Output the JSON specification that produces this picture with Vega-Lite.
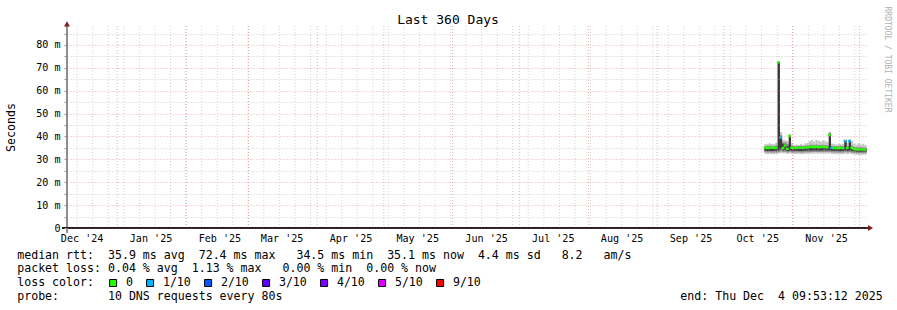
{
  "$schema": "https://vega.github.io/schema/vega-lite/v6.json",
  "width": 800,
  "height": 202,
  "autosize": {"type": "none"},
  "padding": {"left": 67, "top": 26, "right": 30, "bottom": 82},
  "background": "#ffffff",
  "config": {"view": {"stroke": null}, "font": "DejaVu Sans Mono"},
  "datasets": {
    "smoke": [
      {"t": "2025-10-19", "lo": 32.4, "l2": 33.1, "l3": 33.8, "med": 35.1, "h3": 35.4, "h2": 35.9, "hi": 36.6, "loss": "0"},
      {"t": "2025-10-20", "lo": 32.3, "l2": 33.0, "l3": 33.7, "med": 35.0, "h3": 35.3, "h2": 35.9, "hi": 36.9, "loss": "0"},
      {"t": "2025-10-21", "lo": 32.4, "l2": 33.1, "l3": 33.8, "med": 35.0, "h3": 35.4, "h2": 36.0, "hi": 37.0, "loss": "0"},
      {"t": "2025-10-22", "lo": 32.3, "l2": 33.0, "l3": 33.7, "med": 35.1, "h3": 35.3, "h2": 35.8, "hi": 36.7, "loss": "0"},
      {"t": "2025-10-23", "lo": 32.3, "l2": 33.0, "l3": 33.7, "med": 35.0, "h3": 35.3, "h2": 35.9, "hi": 36.8, "loss": "0"},
      {"t": "2025-10-24", "lo": 32.3, "l2": 33.0, "l3": 33.8, "med": 35.1, "h3": 35.5, "h2": 36.2, "hi": 37.4, "loss": "0"},
      {"t": "2025-10-25", "lo": 32.5, "l2": 33.2, "l3": 34.0, "med": 72.4, "h3": 72.4, "h2": 72.7, "hi": 73.0, "loss": "0"},
      {"t": "2025-10-26", "lo": 32.8, "l2": 33.6, "l3": 34.6, "med": 39.5, "h3": 39.8, "h2": 40.6, "hi": 42.0, "loss": "1/10"},
      {"t": "2025-10-27", "lo": 32.6, "l2": 33.3, "l3": 34.0, "med": 34.9, "h3": 36.8, "h2": 37.4, "hi": 38.4, "loss": "0"},
      {"t": "2025-10-28", "lo": 32.6, "l2": 33.3, "l3": 34.0, "med": 36.0, "h3": 36.5, "h2": 37.5, "hi": 38.5, "loss": "0"},
      {"t": "2025-10-29", "lo": 32.4, "l2": 33.0, "l3": 33.6, "med": 34.6, "h3": 35.8, "h2": 36.8, "hi": 38.0, "loss": "0"},
      {"t": "2025-10-30", "lo": 32.6, "l2": 33.3, "l3": 34.0, "med": 40.2, "h3": 40.4, "h2": 40.6, "hi": 41.0, "loss": "0"},
      {"t": "2025-10-31", "lo": 32.4, "l2": 33.1, "l3": 33.8, "med": 35.1, "h3": 35.4, "h2": 36.0, "hi": 37.0, "loss": "0"},
      {"t": "2025-11-01", "lo": 32.3, "l2": 33.0, "l3": 33.7, "med": 35.0, "h3": 35.3, "h2": 35.8, "hi": 36.2, "loss": "0"},
      {"t": "2025-11-02", "lo": 32.3, "l2": 33.0, "l3": 33.7, "med": 35.0, "h3": 35.3, "h2": 35.8, "hi": 36.5, "loss": "0"},
      {"t": "2025-11-03", "lo": 32.4, "l2": 33.1, "l3": 33.7, "med": 35.1, "h3": 35.4, "h2": 35.9, "hi": 36.3, "loss": "0"},
      {"t": "2025-11-04", "lo": 32.3, "l2": 33.0, "l3": 33.7, "med": 35.0, "h3": 35.3, "h2": 35.9, "hi": 36.8, "loss": "0"},
      {"t": "2025-11-05", "lo": 32.3, "l2": 33.0, "l3": 33.7, "med": 35.0, "h3": 35.3, "h2": 35.8, "hi": 36.4, "loss": "0"},
      {"t": "2025-11-06", "lo": 32.4, "l2": 33.1, "l3": 33.8, "med": 35.2, "h3": 35.5, "h2": 36.0, "hi": 37.0, "loss": "0"},
      {"t": "2025-11-07", "lo": 32.4, "l2": 33.1, "l3": 33.8, "med": 35.2, "h3": 35.5, "h2": 36.1, "hi": 37.1, "loss": "0"},
      {"t": "2025-11-08", "lo": 32.5, "l2": 33.2, "l3": 33.9, "med": 35.4, "h3": 35.7, "h2": 36.3, "hi": 38.0, "loss": "0"},
      {"t": "2025-11-09", "lo": 32.5, "l2": 33.2, "l3": 33.9, "med": 35.5, "h3": 35.8, "h2": 36.4, "hi": 38.4, "loss": "0"},
      {"t": "2025-11-10", "lo": 32.5, "l2": 33.2, "l3": 33.9, "med": 35.4, "h3": 35.7, "h2": 36.3, "hi": 37.7, "loss": "0"},
      {"t": "2025-11-11", "lo": 32.5, "l2": 33.2, "l3": 33.9, "med": 35.5, "h3": 35.8, "h2": 36.5, "hi": 38.5, "loss": "0"},
      {"t": "2025-11-12", "lo": 32.5, "l2": 33.2, "l3": 33.9, "med": 35.3, "h3": 35.6, "h2": 36.2, "hi": 38.1, "loss": "0"},
      {"t": "2025-11-13", "lo": 32.5, "l2": 33.2, "l3": 33.9, "med": 35.4, "h3": 35.7, "h2": 36.3, "hi": 37.8, "loss": "0"},
      {"t": "2025-11-14", "lo": 32.5, "l2": 33.2, "l3": 33.9, "med": 35.5, "h3": 35.8, "h2": 36.4, "hi": 38.3, "loss": "0"},
      {"t": "2025-11-15", "lo": 32.5, "l2": 33.2, "l3": 33.9, "med": 35.4, "h3": 35.7, "h2": 36.3, "hi": 38.0, "loss": "0"},
      {"t": "2025-11-16", "lo": 32.5, "l2": 33.2, "l3": 33.9, "med": 35.3, "h3": 35.6, "h2": 36.2, "hi": 37.6, "loss": "0"},
      {"t": "2025-11-17", "lo": 32.6, "l2": 33.3, "l3": 34.0, "med": 40.7, "h3": 41.2, "h2": 41.6, "hi": 42.1, "loss": "0"},
      {"t": "2025-11-18", "lo": 32.4, "l2": 33.1, "l3": 33.8, "med": 35.0, "h3": 35.3, "h2": 35.9, "hi": 36.9, "loss": "1/10"},
      {"t": "2025-11-19", "lo": 32.3, "l2": 33.0, "l3": 33.7, "med": 35.0, "h3": 35.3, "h2": 35.8, "hi": 36.7, "loss": "0"},
      {"t": "2025-11-20", "lo": 32.3, "l2": 33.0, "l3": 33.7, "med": 34.9, "h3": 35.2, "h2": 35.8, "hi": 36.5, "loss": "0"},
      {"t": "2025-11-21", "lo": 32.3, "l2": 33.0, "l3": 33.7, "med": 35.0, "h3": 35.3, "h2": 35.8, "hi": 36.8, "loss": "0"},
      {"t": "2025-11-22", "lo": 32.3, "l2": 33.0, "l3": 33.7, "med": 35.0, "h3": 35.3, "h2": 35.9, "hi": 36.6, "loss": "0"},
      {"t": "2025-11-23", "lo": 32.3, "l2": 33.0, "l3": 33.7, "med": 34.9, "h3": 35.2, "h2": 35.8, "hi": 36.9, "loss": "0"},
      {"t": "2025-11-24", "lo": 32.5, "l2": 33.2, "l3": 34.0, "med": 38.0, "h3": 38.2, "h2": 38.4, "hi": 38.6, "loss": "1/10"},
      {"t": "2025-11-25", "lo": 32.3, "l2": 33.0, "l3": 33.7, "med": 35.0, "h3": 35.3, "h2": 35.9, "hi": 37.2, "loss": "0"},
      {"t": "2025-11-26", "lo": 32.5, "l2": 33.2, "l3": 34.0, "med": 38.0, "h3": 38.3, "h2": 38.5, "hi": 38.8, "loss": "1/10"},
      {"t": "2025-11-27", "lo": 32.3, "l2": 33.0, "l3": 33.7, "med": 35.0, "h3": 35.3, "h2": 36.0, "hi": 38.0, "loss": "0"},
      {"t": "2025-11-28", "lo": 32.1, "l2": 32.8, "l3": 33.5, "med": 34.5, "h3": 34.8, "h2": 35.4, "hi": 36.8, "loss": "0"},
      {"t": "2025-11-29", "lo": 32.0, "l2": 32.7, "l3": 33.4, "med": 34.4, "h3": 34.7, "h2": 35.3, "hi": 36.4, "loss": "0"},
      {"t": "2025-11-30", "lo": 32.0, "l2": 32.7, "l3": 33.4, "med": 34.3, "h3": 34.6, "h2": 35.3, "hi": 37.0, "loss": "0"},
      {"t": "2025-12-01", "lo": 32.0, "l2": 32.7, "l3": 33.4, "med": 34.4, "h3": 34.7, "h2": 35.3, "hi": 36.5, "loss": "0"},
      {"t": "2025-12-02", "lo": 32.0, "l2": 32.7, "l3": 33.4, "med": 34.3, "h3": 34.6, "h2": 35.2, "hi": 36.8, "loss": "0"},
      {"t": "2025-12-03", "lo": 32.0, "l2": 32.7, "l3": 33.4, "med": 34.3, "h3": 34.6, "h2": 35.2, "hi": 36.3, "loss": "0"}
    ],
    "vgrid": [
      {"t": "2024-12-14", "k": "min"}, {"t": "2024-12-21", "k": "min"}, {"t": "2024-12-28", "k": "min"},
      {"t": "2025-01-04", "k": "min"}, {"t": "2025-01-11", "k": "min"}, {"t": "2025-01-18", "k": "min"}, {"t": "2025-01-25", "k": "min"},
      {"t": "2025-02-01", "k": "min"}, {"t": "2025-02-08", "k": "min"}, {"t": "2025-02-15", "k": "min"}, {"t": "2025-02-22", "k": "min"},
      {"t": "2025-03-01", "k": "min"}, {"t": "2025-03-08", "k": "min"}, {"t": "2025-03-15", "k": "min"}, {"t": "2025-03-22", "k": "min"}, {"t": "2025-03-29", "k": "min"},
      {"t": "2025-04-05", "k": "min"}, {"t": "2025-04-12", "k": "min"}, {"t": "2025-04-19", "k": "min"}, {"t": "2025-04-26", "k": "min"},
      {"t": "2025-05-03", "k": "min"}, {"t": "2025-05-10", "k": "min"}, {"t": "2025-05-17", "k": "min"}, {"t": "2025-05-24", "k": "min"}, {"t": "2025-05-31", "k": "min"},
      {"t": "2025-06-07", "k": "min"}, {"t": "2025-06-14", "k": "min"}, {"t": "2025-06-21", "k": "min"}, {"t": "2025-06-28", "k": "min"},
      {"t": "2025-07-05", "k": "min"}, {"t": "2025-07-12", "k": "min"}, {"t": "2025-07-19", "k": "min"}, {"t": "2025-07-26", "k": "min"},
      {"t": "2025-08-02", "k": "min"}, {"t": "2025-08-09", "k": "min"}, {"t": "2025-08-16", "k": "min"}, {"t": "2025-08-23", "k": "min"}, {"t": "2025-08-30", "k": "min"},
      {"t": "2025-09-06", "k": "min"}, {"t": "2025-09-13", "k": "min"}, {"t": "2025-09-20", "k": "min"}, {"t": "2025-09-27", "k": "min"},
      {"t": "2025-10-04", "k": "min"}, {"t": "2025-10-11", "k": "min"}, {"t": "2025-10-18", "k": "min"}, {"t": "2025-10-25", "k": "min"},
      {"t": "2025-11-01", "k": "min"}, {"t": "2025-11-08", "k": "min"}, {"t": "2025-11-15", "k": "min"}, {"t": "2025-11-22", "k": "min"}, {"t": "2025-11-29", "k": "min"},
      {"t": "2025-01-01", "k": "maj"}, {"t": "2025-02-01", "k": "maj"}, {"t": "2025-03-01", "k": "maj"}, {"t": "2025-04-01", "k": "maj"},
      {"t": "2025-05-01", "k": "maj"}, {"t": "2025-06-01", "k": "maj"}, {"t": "2025-07-01", "k": "maj"}, {"t": "2025-08-01", "k": "maj"},
      {"t": "2025-09-01", "k": "maj"}, {"t": "2025-10-01", "k": "maj"}, {"t": "2025-11-01", "k": "maj"}, {"t": "2025-12-01", "k": "maj"}
    ],
    "axislines": [
      {"t": "2024-12-07T03:53:12Z", "t2": "2025-12-04T20:00:00Z", "v": 0, "v2": 0, "k": "x"},
      {"t": "2024-12-09T09:53:12Z", "t2": "2024-12-09T09:53:12Z", "v": -2.2, "v2": 88.3, "k": "y"}
    ],
    "arrows": [
      {"t": "2025-12-06T00:00:00Z", "v": 0, "s": "triangle-right"},
      {"t": "2024-12-09T09:53:12Z", "v": 89.2, "s": "triangle-up"}
    ]
  },
  "resolve": {"axis": {"x": "independent", "y": "independent"}},
  "layer": [
    {
      "data": {"name": "smoke"},
      "mark": {"type": "rect", "color": "#c6c6c6"},
      "encoding": {
        "x": {
          "field": "t", "type": "temporal", "timeUnit": "utcyearmonthdate",
          "scale": {"type": "utc", "nice": false, "domain": [{"year": 2024, "month": 12, "date": 9, "hours": 9, "minutes": 53, "seconds": 12, "utc": true}, {"year": 2025, "month": 12, "date": 4, "hours": 9, "minutes": 53, "seconds": 12, "utc": true}]},
          "axis": {
            "orient": "bottom",
            "values": [
              {"year": 2024, "month": 12, "date": 16, "utc": true},
              {"year": 2025, "month": 1, "date": 16, "utc": true},
              {"year": 2025, "month": 2, "date": 16, "utc": true},
              {"year": 2025, "month": 3, "date": 16, "utc": true},
              {"year": 2025, "month": 4, "date": 16, "utc": true},
              {"year": 2025, "month": 5, "date": 16, "utc": true},
              {"year": 2025, "month": 6, "date": 16, "utc": true},
              {"year": 2025, "month": 7, "date": 16, "utc": true},
              {"year": 2025, "month": 8, "date": 16, "utc": true},
              {"year": 2025, "month": 9, "date": 16, "utc": true},
              {"year": 2025, "month": 10, "date": 16, "utc": true},
              {"year": 2025, "month": 11, "date": 16, "utc": true}
            ],
            "labelExpr": "utcFormat(datum.value, \"%b '%y\")",
            "labelFont": "DejaVu Sans Mono", "labelFontSize": 10.1, "labelColor": "#000000",
            "labelBaseline": "alphabetic", "labelAlign": "center", "labelPadding": 13,
            "labelFlush": false, "labelOverlap": false, "labelBound": false,
            "ticks": false, "tickSize": 0, "grid": false, "domain": false,
            "title": [
              "median rtt:\u00a0 35.9 ms avg\u00a0 72.4 ms max\u00a0\u00a0 34.5 ms min\u00a0 35.1 ms now\u00a0 4.4 ms sd\u00a0\u00a0 8.2\u00a0\u00a0 am/s",
              "packet loss: 0.04 % avg\u00a0 1.13 % max\u00a0\u00a0 0.00 % min\u00a0 0.00 % now",
              "loss color:",
              "probe:\u00a0\u00a0\u00a0\u00a0\u00a0\u00a0 10 DNS requests every 80s\u00a0\u00a0\u00a0\u00a0\u00a0\u00a0\u00a0\u00a0\u00a0\u00a0\u00a0\u00a0\u00a0\u00a0\u00a0\u00a0\u00a0\u00a0\u00a0\u00a0\u00a0\u00a0\u00a0\u00a0\u00a0\u00a0\u00a0\u00a0\u00a0\u00a0\u00a0\u00a0\u00a0\u00a0\u00a0\u00a0\u00a0\u00a0\u00a0\u00a0\u00a0\u00a0\u00a0\u00a0\u00a0\u00a0\u00a0\u00a0\u00a0\u00a0\u00a0\u00a0\u00a0\u00a0\u00a0\u00a0 end: Thu Dec\u00a0 4 09:53:12 2025"
            ],
            "titleFont": "DejaVu Sans Mono", "titleFontSize": 11.6, "titleFontWeight": "normal", "titleColor": "#000000",
            "titleAnchor": "start", "titleAlign": "left", "titleBaseline": "alphabetic",
            "titleX": -50.3, "titleY": 30, "titleLineHeight": 13.9
          }
        },
        "y": {
          "field": "lo", "type": "quantitative",
          "scale": {"domain": [0, 88.3], "nice": false, "zero": false},
          "axis": {
            "orient": "left",
            "values": [0, 5, 10, 15, 20, 25, 30, 35, 40, 45, 50, 55, 60, 65, 70, 75, 80, 85],
            "labelExpr": "datum.value % 10 === 0 ? (datum.value === 0 ? '0\u00a0' : datum.value + ' m') : ''",
            "labelFont": "DejaVu Sans Mono", "labelFontSize": 10.1, "labelColor": "#000000", "labelPadding": 4,
            "ticks": true, "tickSize": 3, "tickColor": "#909090",
            "grid": true,
            "gridColor": {"condition": {"test": "datum.value % 10 === 0", "value": "#e06060"}, "value": "#a0a0a0"},
            "gridOpacity": 0.5, "gridDash": [1, 2], "gridWidth": 1,
            "domain": false, "zindex": 1,
            "title": "Seconds", "titleFont": "DejaVu Sans Mono", "titleFontSize": 11.6, "titleFontWeight": "normal", "titleColor": "#000000",
            "titleAngle": 270, "titleAlign": "center", "titleBaseline": "middle", "titleX": -56, "titleY": 101
          }
        },
        "y2": {"field": "hi"}
      }
    },
    {
      "data": {"name": "smoke"},
      "mark": {"type": "rect", "color": "#8a8a8a"},
      "encoding": {
        "x": {"field": "t", "type": "temporal", "timeUnit": "utcyearmonthdate", "axis": null,
          "scale": {"type": "utc", "nice": false, "domain": [{"year": 2024, "month": 12, "date": 9, "hours": 9, "minutes": 53, "seconds": 12, "utc": true}, {"year": 2025, "month": 12, "date": 4, "hours": 9, "minutes": 53, "seconds": 12, "utc": true}]}},
        "y": {"field": "l2", "type": "quantitative", "axis": null, "scale": {"domain": [0, 88.3], "nice": false, "zero": false}},
        "y2": {"field": "h2"}
      }
    },
    {
      "data": {"name": "smoke"},
      "mark": {"type": "rect", "color": "#383838"},
      "encoding": {
        "x": {"field": "t", "type": "temporal", "timeUnit": "utcyearmonthdate", "axis": null,
          "scale": {"type": "utc", "nice": false, "domain": [{"year": 2024, "month": 12, "date": 9, "hours": 9, "minutes": 53, "seconds": 12, "utc": true}, {"year": 2025, "month": 12, "date": 4, "hours": 9, "minutes": 53, "seconds": 12, "utc": true}]}},
        "y": {"field": "l3", "type": "quantitative", "axis": null, "scale": {"domain": [0, 88.3], "nice": false, "zero": false}},
        "y2": {"field": "h3"}
      }
    },
    {
      "data": {"name": "smoke"},
      "mark": {"type": "tick", "orient": "horizontal", "thickness": 2.4, "size": 2.7, "opacity": 1},
      "encoding": {
        "x": {"field": "t", "type": "temporal", "timeUnit": "utcyearmonthdate", "bandPosition": 0.5, "axis": null,
          "scale": {"type": "utc", "nice": false, "domain": [{"year": 2024, "month": 12, "date": 9, "hours": 9, "minutes": 53, "seconds": 12, "utc": true}, {"year": 2025, "month": 12, "date": 4, "hours": 9, "minutes": 53, "seconds": 12, "utc": true}]}},
        "y": {"field": "med", "type": "quantitative", "axis": null, "scale": {"domain": [0, 88.3], "nice": false, "zero": false}},
        "color": {
          "field": "loss", "type": "nominal",
          "scale": {"domain": ["0", "1/10", "2/10", "3/10", "4/10", "5/10", "9/10"], "range": ["#26ff00", "#00b8ff", "#0059ff", "#5e00ff", "#7e00ff", "#dd00ff", "#ff0000"]},
          "legend": {
            "orient": "none", "legendX": 40.3, "legendY": 250.9, "direction": "horizontal", "title": null,
            "symbolType": "square", "symbolSize": 49, "symbolStrokeWidth": 1, "symbolStrokeColor": "#000000", "symbolOpacity": 1,
            "labelFont": "DejaVu Sans Mono", "labelFontSize": 11.6, "labelColor": "#000000", "labelOffset": 7,
            "columnPadding": 11, "padding": 0,
            "encode": {"symbols": {"update": {"fill": {"scale": "color", "field": "value"}, "stroke": {"value": "#000000"}, "strokeWidth": {"value": 1}, "opacity": {"value": 1}}}}
          }
        }
      }
    },
    {
      "data": {"name": "vgrid"},
      "transform": [{"filter": "datum.k === 'min'"}],
      "mark": {"type": "rule", "color": "#a0a0a0", "opacity": 0.45, "strokeDash": [1, 2], "strokeWidth": 1},
      "encoding": {
        "x": {"field": "t", "type": "temporal", "axis": null,
          "scale": {"type": "utc", "nice": false, "domain": [{"year": 2024, "month": 12, "date": 9, "hours": 9, "minutes": 53, "seconds": 12, "utc": true}, {"year": 2025, "month": 12, "date": 4, "hours": 9, "minutes": 53, "seconds": 12, "utc": true}]}}
      }
    },
    {
      "data": {"name": "vgrid"},
      "transform": [{"filter": "datum.k === 'maj'"}],
      "mark": {"type": "rule", "color": "#e06060", "opacity": 0.5, "strokeDash": [1, 2], "strokeWidth": 1},
      "encoding": {
        "x": {"field": "t", "type": "temporal", "axis": null,
          "scale": {"type": "utc", "nice": false, "domain": [{"year": 2024, "month": 12, "date": 9, "hours": 9, "minutes": 53, "seconds": 12, "utc": true}, {"year": 2025, "month": 12, "date": 4, "hours": 9, "minutes": 53, "seconds": 12, "utc": true}]}}
      }
    },
    {
      "data": {"name": "axislines"},
      "transform": [{"filter": "datum.k === 'x'"}],
      "mark": {"type": "rule", "color": "#1f1f1f", "strokeWidth": 2},
      "encoding": {
        "x": {"field": "t", "type": "temporal", "axis": null,
          "scale": {"type": "utc", "nice": false, "domain": [{"year": 2024, "month": 12, "date": 9, "hours": 9, "minutes": 53, "seconds": 12, "utc": true}, {"year": 2025, "month": 12, "date": 4, "hours": 9, "minutes": 53, "seconds": 12, "utc": true}]}},
        "x2": {"field": "t2"},
        "y": {"field": "v", "type": "quantitative", "axis": null, "scale": {"domain": [0, 88.3], "nice": false, "zero": false}}
      }
    },
    {
      "data": {"name": "axislines"},
      "transform": [{"filter": "datum.k === 'y'"}],
      "mark": {"type": "rule", "color": "#1f1f1f", "strokeWidth": 1},
      "encoding": {
        "x": {"field": "t", "type": "temporal", "axis": null,
          "scale": {"type": "utc", "nice": false, "domain": [{"year": 2024, "month": 12, "date": 9, "hours": 9, "minutes": 53, "seconds": 12, "utc": true}, {"year": 2025, "month": 12, "date": 4, "hours": 9, "minutes": 53, "seconds": 12, "utc": true}]}},
        "y": {"field": "v", "type": "quantitative", "axis": null, "scale": {"domain": [0, 88.3], "nice": false, "zero": false}},
        "y2": {"field": "v2"}
      }
    },
    {
      "data": {"name": "arrows"},
      "mark": {"type": "point", "filled": true, "size": 36, "color": "#801f1f", "opacity": 1},
      "encoding": {
        "x": {"field": "t", "type": "temporal",
          "scale": {"type": "utc", "nice": false, "domain": [{"year": 2024, "month": 12, "date": 9, "hours": 9, "minutes": 53, "seconds": 12, "utc": true}, {"year": 2025, "month": 12, "date": 4, "hours": 9, "minutes": 53, "seconds": 12, "utc": true}]},
          "axis": {
            "orient": "top", "labels": false, "ticks": false, "domain": false, "grid": false,
            "title": "Last 360 Days", "titleFont": "DejaVu Sans Mono", "titleFontSize": 13, "titleFontWeight": "normal", "titleColor": "#000000",
            "titleX": 380.5, "titleY": -3, "titleAlign": "center", "titleAnchor": "middle", "titleBaseline": "alphabetic"
          }
        },
        "y": {
          "field": "v", "type": "quantitative",
          "scale": {"domain": [0, 88.3], "nice": false, "zero": false},
          "axis": {
            "orient": "right", "labels": false, "ticks": false, "domain": false, "grid": false,
            "title": "RRDTOOL / TOBI OETIKER", "titleFont": "DejaVu Sans Mono", "titleFontSize": 8, "titleFontWeight": "normal", "titleColor": "#b0b0b0",
            "titleAngle": 90, "titleX": 19, "titleY": -20, "titleAlign": "left", "titleAnchor": "start", "titleBaseline": "middle"
          }
        },
        "shape": {"field": "s", "type": "nominal", "scale": null, "legend": null}
      }
    }
  ]
}
